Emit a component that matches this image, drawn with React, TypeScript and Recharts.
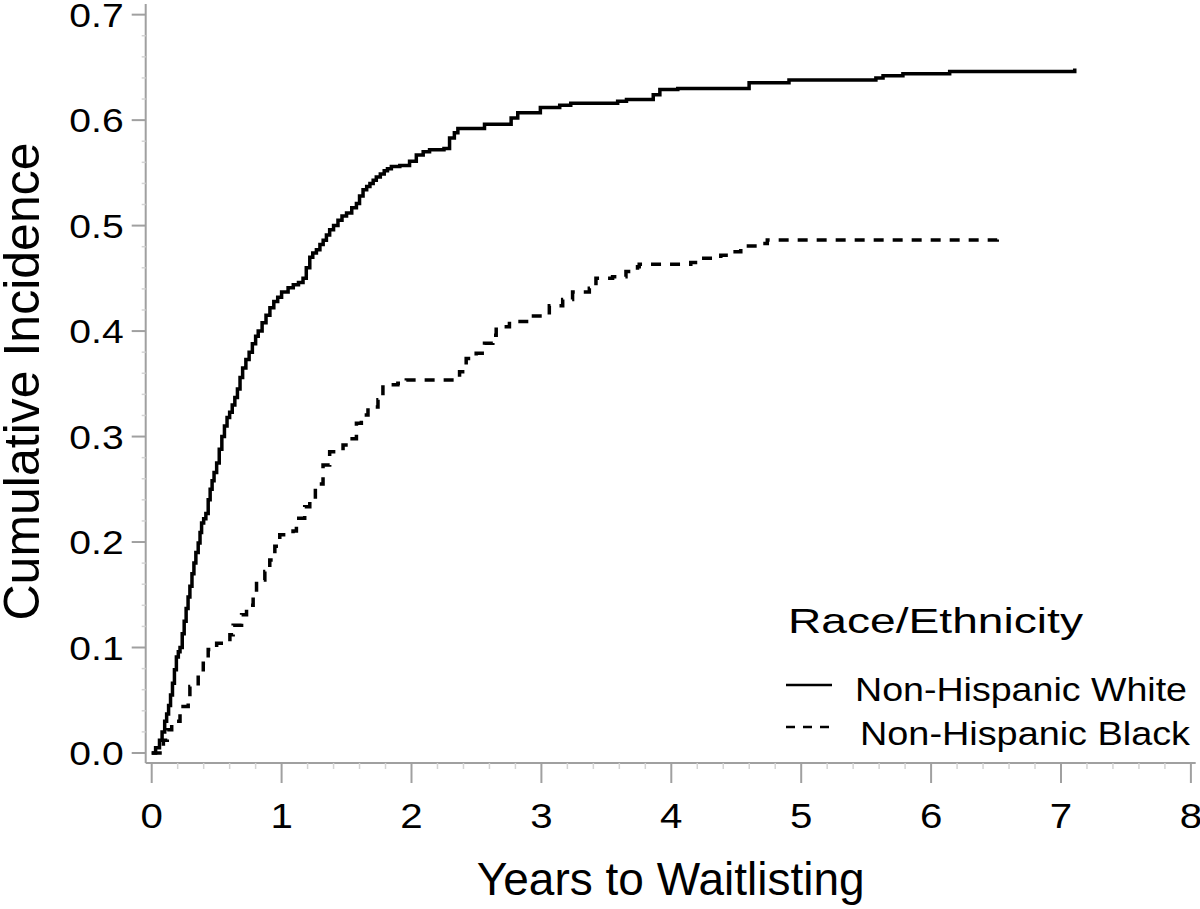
import React from 'react';
import { LineChart, Line, XAxis, YAxis, Legend } from 'recharts';

// ---------- data ----------
const whiteTimes = [
  0, 0.03, 0.06, 0.08, 0.1, 0.115, 0.13, 0.145, 0.16, 0.175, 0.19, 0.205, 0.218, 0.235, 0.25, 0.265,
  0.28, 0.294, 0.31, 0.325, 0.34, 0.358, 0.372, 0.384, 0.4, 0.417, 0.435, 0.45, 0.465, 0.48, 0.5,
  0.52, 0.54, 0.56, 0.58, 0.6, 0.62, 0.64, 0.66, 0.68, 0.7, 0.725, 0.75, 0.775, 0.8, 0.82, 0.85,
  0.88, 0.91, 0.94, 0.97, 1.0, 1.05, 1.09, 1.13, 1.165, 1.19, 1.217, 1.24, 1.268, 1.295, 1.32,
  1.345, 1.37, 1.4, 1.434, 1.465, 1.5, 1.54, 1.576, 1.6, 1.627, 1.655, 1.68, 1.705, 1.729, 1.76,
  1.79, 1.815, 1.845, 1.91, 1.985, 2.037, 2.09, 2.139, 2.25, 2.293, 2.33, 2.357, 2.562, 2.767, 2.818,
  2.992, 3.141, 3.226, 3.587, 3.655, 3.861, 3.912, 4.05, 4.599, 4.906, 5.575, 5.63, 5.783, 6.143,
  7.104, 7.106,
];
const whiteValues = [
  0, 0.005, 0.012, 0.02, 0.03, 0.037, 0.045, 0.055, 0.066, 0.079, 0.091, 0.096, 0.1, 0.113, 0.125, 0.137,
  0.148, 0.158, 0.17, 0.18, 0.19, 0.199, 0.209, 0.218, 0.222, 0.227, 0.24, 0.25, 0.258, 0.266, 0.275,
  0.288, 0.3, 0.31, 0.318, 0.323, 0.33, 0.337, 0.345, 0.356, 0.365, 0.373, 0.38, 0.388, 0.395, 0.4, 0.408,
  0.415, 0.422, 0.428, 0.432, 0.437, 0.441, 0.444, 0.446, 0.45, 0.46, 0.47, 0.474, 0.477, 0.482, 0.486,
  0.491, 0.496, 0.5, 0.505, 0.509, 0.512, 0.517, 0.521, 0.528, 0.534, 0.537, 0.54, 0.543, 0.546, 0.549,
  0.552, 0.554, 0.556, 0.557, 0.561, 0.567, 0.57, 0.572, 0.573, 0.583, 0.588, 0.592, 0.596, 0.602, 0.607,
  0.612, 0.614, 0.616, 0.618, 0.6195, 0.624, 0.629, 0.63, 0.6355, 0.638, 0.64, 0.642, 0.644, 0.646,
  0.646, 0.649,
];
const blackTimes = [
  0, 0.064, 0.09, 0.12, 0.154, 0.218, 0.281, 0.294, 0.358, 0.397, 0.435, 0.5, 0.602, 0.627, 0.692,
  0.73, 0.781, 0.807, 0.871, 0.909, 0.948, 0.986, 1.088, 1.114, 1.178, 1.217, 1.26, 1.319, 1.37,
  1.473, 1.524, 1.576, 1.614, 1.665, 1.742, 1.78, 1.895, 1.96, 2.37, 2.421, 2.498, 2.562, 2.626,
  2.652, 2.754, 2.908, 3.061, 3.164, 3.24, 3.369, 3.42, 3.548, 3.651, 3.74, 3.753, 4.15, 4.227,
  4.381, 4.458, 4.535, 4.701, 4.739, 6.507, 6.509,
];
const blackValues = [
  0, 0.006, 0.012, 0.022, 0.03, 0.044, 0.053, 0.063, 0.074, 0.085, 0.098, 0.104, 0.112, 0.121, 0.131,
  0.14, 0.151, 0.164, 0.172, 0.183, 0.196, 0.207, 0.2105, 0.2225, 0.2335, 0.24, 0.255, 0.273, 0.2857,
  0.292, 0.298, 0.3126, 0.3205, 0.328, 0.335, 0.349, 0.3505, 0.3537, 0.3615, 0.374, 0.379, 0.3885, 0.396,
  0.404, 0.409, 0.4143, 0.424, 0.43, 0.437, 0.4406, 0.45, 0.4516, 0.4564, 0.461, 0.4633, 0.465, 0.469,
  0.472, 0.4753, 0.4807, 0.483, 0.4864, 0.4864, 0.491,
];

const seriesNames = ['Non-Hispanic White', 'Non-Hispanic Black'];
const legendTitle = 'Race/Ethnicity';
const xTitle = 'Years to Waitlisting';
const yTitle = 'Cumulative Incidence';

const xMajorTicks = [0, 1, 2, 3, 4, 5, 6, 7, 8];
const yMajorTicks = [0, 0.1, 0.2, 0.3, 0.4, 0.5, 0.6, 0.7];
const xMinorTicks = xMajorTicks.slice(0, -1).flatMap((t) => [1, 2, 3, 4].map((k) => +(t + k * 0.2).toFixed(2)));
const yMinorTicks = yMajorTicks.slice(0, -1).flatMap((v) => [1, 2, 3, 4].map((k) => +(v + k * 0.02).toFixed(2)));
const xAllTicks = [...xMajorTicks, ...xMinorTicks].sort((a, b) => a - b);
const yAllTicks = [...yMajorTicks, ...yMinorTicks].sort((a, b) => a - b);

const whiteData = whiteTimes.map((t, i) => ({ t, v: whiteValues[i] }));
const blackData = blackTimes.map((t, i) => ({ t, v: blackValues[i] }));

// ---------- layout / style ----------
const W = 1200;
const H = 909;
const FONT = "'Liberation Sans', Arial, Helvetica, sans-serif";
const FRAME = '#a0a0a0';
const MINOR = '#d4d4d4';
const X_DOMAIN: [number, number] = [-0.0462, 8.037];
const Y_DOMAIN: [number, number] = [-0.0095, 0.7101];
const DASH = '10 9';

const isMajor = (v: number, list: number[]) => list.some((m) => Math.abs(m - v) < 1e-6);

const XTick = (props: any) => {
  const { x, y, payload } = props;
  const val = payload.value;
  if (!isMajor(val, xMajorTicks)) {
    return <line x1={x} x2={x} y1={y} y2={y + 6} stroke={MINOR} strokeWidth={1.5} />;
  }
  return (
    <g>
      <line x1={x} x2={x} y1={y} y2={y + 20} stroke={FRAME} strokeWidth={2} />
      <text
        transform={`translate(${x},${y + 65}) scale(1.15,1)`}
        textAnchor="middle"
        fontSize={35}
        fontFamily={FONT}
        fill="#000"
      >
        {String(val)}
      </text>
    </g>
  );
};

const YTick = (props: any) => {
  const { x, y, payload } = props;
  const val = payload.value;
  if (!isMajor(val, yMajorTicks)) {
    return <line x1={x - 4} x2={x} y1={y} y2={y} stroke={MINOR} strokeWidth={1.5} />;
  }
  return (
    <g>
      <line x1={x - 14} x2={x} y1={y} y2={y} stroke={FRAME} strokeWidth={2} />
      <text
        transform={`translate(${x - 22},${y + 12}) scale(1.15,1)`}
        textAnchor="end"
        fontSize={34}
        fontFamily={FONT}
        fill="#000"
      >
        {Number(val).toFixed(1)}
      </text>
    </g>
  );
};

const XTitle = () => (
  <text x={670.7} y={895} textAnchor="middle" fontSize={46} fontFamily={FONT} fill="#000">
    {xTitle}
  </text>
);

const YTitle = () => (
  <text
    transform="translate(38.5,381.5) rotate(-90)"
    textAnchor="middle"
    fontSize={50}
    fontFamily={FONT}
    fill="#000"
  >
    {yTitle}
  </text>
);

const legendDashes: Record<string, string | undefined> = {
  [seriesNames[0]]: undefined,
  [seriesNames[1]]: '9 8',
};
const legendRows = [
  { lineY: 685, textX: 855, baseline: 701, len: 332 },
  { lineY: 727, textX: 860, baseline: 745, len: 330 },
];

const LegendBox = (props: any) => {
  const payload: any[] = props.payload || [];
  const ordered = seriesNames
    .map((n) => payload.find((p) => p.value === n))
    .filter(Boolean);
  return (
    <svg width={W} height={H} style={{ position: 'absolute', left: 0, top: 0, overflow: 'visible' }}>
      <text
        x={788}
        y={633}
        fontSize={35}
        fontFamily={FONT}
        fill="#000"
        textLength={295}
        lengthAdjust="spacingAndGlyphs"
      >
        {legendTitle}
      </text>
      {ordered.map((item: any, i: number) => {
        const row = legendRows[i] || legendRows[0];
        return (
          <g key={i}>
            <line
              x1={786}
              x2={832}
              y1={row.lineY}
              y2={row.lineY}
              stroke="#000"
              strokeWidth={2.5}
              strokeDasharray={legendDashes[item.value]}
            />
            <text
              x={row.textX}
              y={row.baseline}
              fontSize={34}
              fontFamily={FONT}
              fill="#000"
              textLength={row.len}
              lengthAdjust="spacingAndGlyphs"
            >
              {item.value}
            </text>
          </g>
        );
      })}
    </svg>
  );
};

export default function App() {
  return (
    <div style={{ position: 'absolute', left: 0, top: 0, width: W, height: H, background: '#fff' }}>
      <LineChart width={W} height={H} margin={{ top: 4, right: 4.3, bottom: 0, left: 0 }}>
        <XAxis
          xAxisId={0}
          dataKey="t"
          type="number"
          domain={X_DOMAIN}
          allowDataOverflow
          ticks={xAllTicks}
          interval={0}
          tickSize={0}
          tickMargin={0}
          tickLine={false}
          tick={<XTick />}
          axisLine={{ stroke: FRAME, strokeWidth: 2 }}
          height={146}
          label={<XTitle />}
        />
        <XAxis
          xAxisId="top"
          orientation="top"
          type="number"
          domain={X_DOMAIN}
          allowDataOverflow
          height={0}
          tick={false}
          tickLine={false}
          axisLine={{ stroke: FRAME, strokeWidth: 2 }}
        />
        <YAxis
          yAxisId={0}
          type="number"
          domain={Y_DOMAIN}
          allowDataOverflow
          ticks={yAllTicks}
          interval={0}
          tickSize={0}
          tickMargin={0}
          tickLine={false}
          tick={<YTick />}
          axisLine={{ stroke: FRAME, strokeWidth: 2 }}
          width={145.7}
          label={<YTitle />}
        />
        <YAxis
          yAxisId="right"
          orientation="right"
          type="number"
          domain={Y_DOMAIN}
          allowDataOverflow
          width={0}
          tick={false}
          tickLine={false}
          axisLine={{ stroke: FRAME, strokeWidth: 2 }}
        />
        <Line
          data={whiteData}
          dataKey="v"
          name={seriesNames[0]}
          type="stepAfter"
          stroke="#000"
          strokeWidth={3.5}
          dot={false}
          activeDot={false}
          isAnimationActive={false}
        />
        <Line
          data={blackData}
          dataKey="v"
          name={seriesNames[1]}
          type="stepAfter"
          stroke="#000"
          strokeWidth={3.5}
          strokeDasharray={DASH}
          dot={false}
          activeDot={false}
          isAnimationActive={false}
        />
        <Legend
          layout="horizontal"
          verticalAlign="middle"
          align="center"
          wrapperStyle={{ position: 'absolute', left: 0, top: 0, width: W, height: H, pointerEvents: 'none' }}
          content={(p: any) => <LegendBox payload={p.payload} />}
        />
      </LineChart>
    </div>
  );
}
